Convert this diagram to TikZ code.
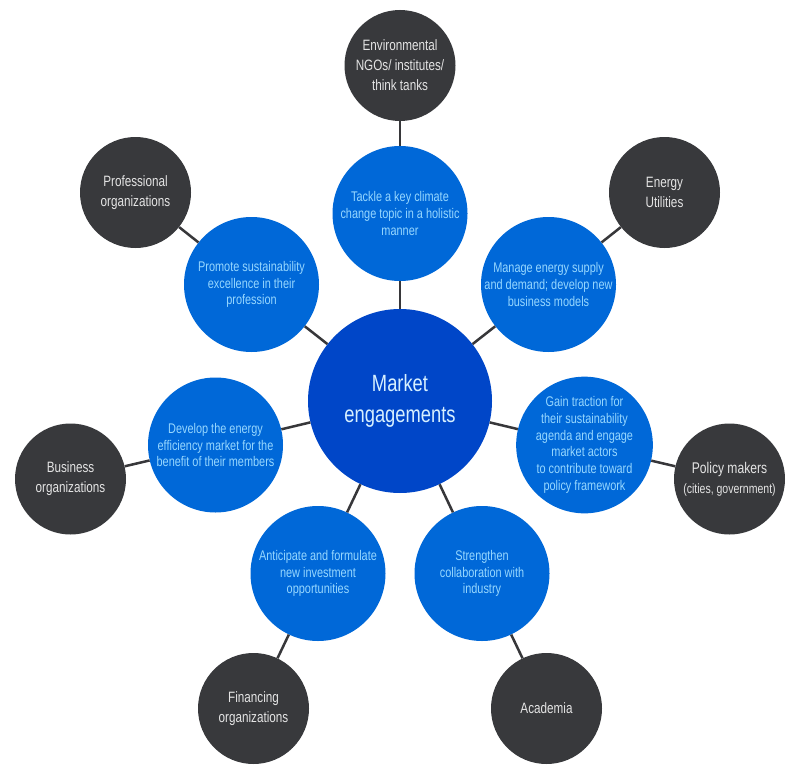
\documentclass[tikz,border=0pt]{standalone}
\usepackage{fontspec}
\setmainfont{Liberation Sans}[FakeStretch=0.78]
\definecolor{darkc}{RGB}{56,57,60}
\definecolor{bluec}{RGB}{0,104,216}
\definecolor{centerc}{RGB}{0,70,200}
\definecolor{bluetext}{RGB}{150,215,255}
\definecolor{darktext}{RGB}{228,228,228}
\definecolor{centertext}{RGB}{215,240,255}
\definecolor{linec}{RGB}{55,55,58}
\begin{document}
\begin{tikzpicture}[x=1pt,y=-1pt,
  darknode/.style={circle,fill=darkc,minimum size=111pt,inner sep=0pt,align=center,text=darktext,font=\fontsize{15}{20}\selectfont},
  bluenode/.style={circle,fill=bluec,minimum size=135pt,inner sep=0pt,align=center,text=bluetext,font=\fontsize{14}{16.7}\selectfont},
  centernode/.style={circle,fill=centerc,minimum size=184pt,inner sep=0pt,align=center,text=centertext,font=\fontsize{23.5}{31}\selectfont},
  link/.style={draw=linec,line width=2.5pt}]
\fill[white] (0,0) rectangle (800,776);
\useasboundingbox (0,0) rectangle (800,776);
% center
\node[centernode] (c) at (400,401) {Market\\engagements};
% blue
\node[bluenode] (b1) at (400,213.5) {Tackle a key climate\\change topic in a holistic\\manner};
\node[bluenode] (b2) at (251.5,284.5) {Promote sustainability\\excellence in their\\profession};
\node[bluenode] (b3) at (548.5,284.5) {Manage energy supply\\and demand; develop new\\business models};
\node[bluenode] (b4) at (215.5,445) {Develop the energy\\efficiency market for the\\benefit of their members};
\node[bluenode] (b5) at (584.5,445) {Gain traction for\\their sustainability\\agenda and engage\\market actors\\to contribute toward\\policy framework};
\node[bluenode] (b6) at (318,573.5) {Anticipate and formulate\\new investment\\opportunities};
\node[bluenode] (b7) at (482,573.5) {Strengthen\\collaboration with\\industry};
% dark
\node[darknode] (d1) at (400,65.5) {Environmental\\NGOs/ institutes/\\think tanks};
\node[darknode] (d2) at (135.5,192.5) {Professional\\organizations};
\node[darknode] (d3) at (664.5,192.5) {Energy\\Utilities};
\node[darknode] (d4) at (70.5,479) {Business\\organizations};
\node[darknode] (d5) at (729.5,479) {{\fontsize{15.5}{20}\selectfont Policy makers}\\{\fontsize{13.5}{20}\selectfont (cities, government)}};
\node[darknode] (d6) at (253.5,708.5) {Financing\\organizations};
\node[darknode] (d7) at (546.5,708.5) {Academia};
% links
\foreach \i in {1,...,7}{
  \path[link] (c) -- (b\i);
  \path[link] (b\i) -- (d\i);
}
\end{tikzpicture}
\end{document}
